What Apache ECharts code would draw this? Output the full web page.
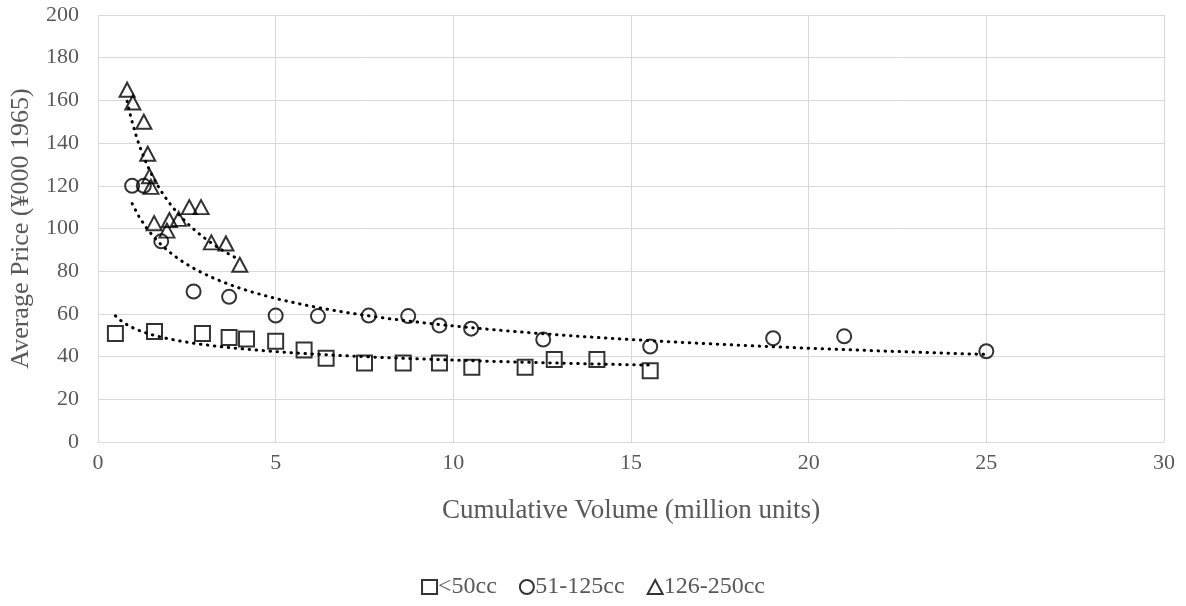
<!DOCTYPE html>
<html>
<head>
<meta charset="utf-8">
<title>Average price vs cumulative volume</title>
<script src="https://cdn.jsdelivr.net/npm/echarts@6.0.0/dist/echarts.min.js"></script>
<style>
  html, body { margin: 0; padding: 0; background: #fff; }
  #chart { width: 1186px; height: 606px; }
</style>
</head>
<body>
<div id="chart"></div>
<script>
// --- Data ---
var seriesNames = ['<50cc', '51-125cc', '126-250cc'];

var smallX = [0.49, 1.59, 2.94, 3.69, 4.18, 5.0, 5.8, 6.42, 7.5, 8.59, 9.61, 10.52, 12.02, 12.84, 14.04, 15.54];
var smallY = [50.8, 51.8, 50.8, 49, 48.2, 47.2, 43.1, 39.2, 37, 37, 37, 35, 35, 38.6, 38.6, 33.4];

var midX = [0.96, 1.29, 1.78, 2.69, 3.69, 5.0, 6.19, 7.62, 8.73, 9.61, 10.5, 12.53, 15.54, 19.0, 21.0, 25.0];
var midY = [120, 120, 94, 70.5, 68, 59.2, 59, 59.2, 59, 54.6, 53.1, 48, 44.7, 48.6, 49.5, 42.5];

var bigX = [0.82, 0.98, 1.29, 1.40, 1.45, 1.49, 1.58, 1.94, 2.01, 2.27, 2.57, 2.90, 3.19, 3.60, 3.99];
var bigY = [165, 159, 150, 135, 124.5, 119.5, 102.5, 99, 104, 104.5, 110, 110, 93.5, 93, 83];

var xTicks = [0, 5, 10, 15, 20, 25, 30];
var yTicks = [0, 20, 40, 60, 80, 100, 120, 140, 160, 180, 200];

// --- Helpers ---
function pairs(xs, ys) {
  return xs.map(function (x, i) { return [x, ys[i]]; });
}

// power trendline (least squares on ln x, ln y), sampled between min and max x
function powerTrend(xs, ys) {
  var n = xs.length, sx = 0, sy = 0, sxx = 0, sxy = 0;
  for (var i = 0; i < n; i++) {
    var lx = Math.log(xs[i]), ly = Math.log(ys[i]);
    sx += lx; sy += ly; sxx += lx * lx; sxy += lx * ly;
  }
  var b = (n * sxy - sx * sy) / (n * sxx - sx * sx);
  var a = Math.exp((sy - b * sx) / n);
  var lo = Math.min.apply(null, xs), hi = Math.max.apply(null, xs);
  var pts = [];
  for (var k = 0; k <= 120; k++) {
    var x = lo + (hi - lo) * k / 120;
    pts.push([x, a * Math.pow(x, b)]);
  }
  return pts;
}

var FONT = '"Liberation Serif", "Times New Roman", serif';
var GREY = '#595959';

function markerSeries(name, symbol, size, xs, ys) {
  return {
    name: name,
    type: 'scatter',
    symbol: symbol,
    symbolSize: size,
    data: pairs(xs, ys),
    itemStyle: { color: 'rgba(255,255,255,0)', borderColor: '#000', borderWidth: 2 },
    z: 3
  };
}

function trendSeries(xs, ys) {
  return {
    type: 'line',
    data: powerTrend(xs, ys),
    showSymbol: false,
    symbol: 'none',
    silent: true,
    lineStyle: { color: '#000', width: 3, type: [0.5, 6.5], cap: 'round' },
    z: 4
  };
}

var chart = echarts.init(document.getElementById('chart'), null, { renderer: 'canvas' });

chart.setOption({
  animation: false,
  backgroundColor: '#fff',
  grid: { left: 96, right: 22, top: 15, bottom: 164 },
  legend: {
    data: seriesNames,
    bottom: 2,
    left: 'center',
    itemWidth: 15,
    itemHeight: 14,
    itemGap: 22,
    textStyle: { fontFamily: FONT, fontSize: 24, color: GREY, padding: [0, 0, 0, -4] }
  },
  xAxis: {
    type: 'value',
    min: xTicks[0],
    max: xTicks[xTicks.length - 1],
    interval: 5,
    name: 'Cumulative Volume (million units)',
    nameLocation: 'middle',
    nameGap: 55,
    nameTextStyle: { fontFamily: FONT, fontSize: 27, color: GREY },
    axisLine: { show: true, lineStyle: { color: '#d9d9d9', width: 1 } },
    axisTick: { show: false },
    axisLabel: { fontFamily: FONT, fontSize: 22, color: GREY, margin: 10 },
    splitLine: { show: true, lineStyle: { color: '#d9d9d9', width: 1 } }
  },
  yAxis: {
    type: 'value',
    min: yTicks[0],
    max: yTicks[yTicks.length - 1],
    interval: 20,
    name: 'Average Price (¥000 1965)',
    nameLocation: 'middle',
    nameGap: 64,
    nameTextStyle: { fontFamily: FONT, fontSize: 26, color: GREY },
    axisLine: { show: false },
    axisTick: { show: false },
    axisLabel: { fontFamily: FONT, fontSize: 22, color: GREY, margin: 19 },
    splitLine: { show: true, lineStyle: { color: '#d9d9d9', width: 1 } }
  },
  series: [
    markerSeries(seriesNames[0], 'rect', 15, smallX, smallY),
    markerSeries(seriesNames[1], 'circle', 14, midX, midY),
    markerSeries(seriesNames[2], 'triangle', [15, 14], bigX, bigY),
    trendSeries(smallX, smallY),
    trendSeries(midX, midY),
    trendSeries(bigX, bigY)
  ]
});

window.addEventListener('resize', function () { chart.resize(); });
</script>
</body>
</html>
